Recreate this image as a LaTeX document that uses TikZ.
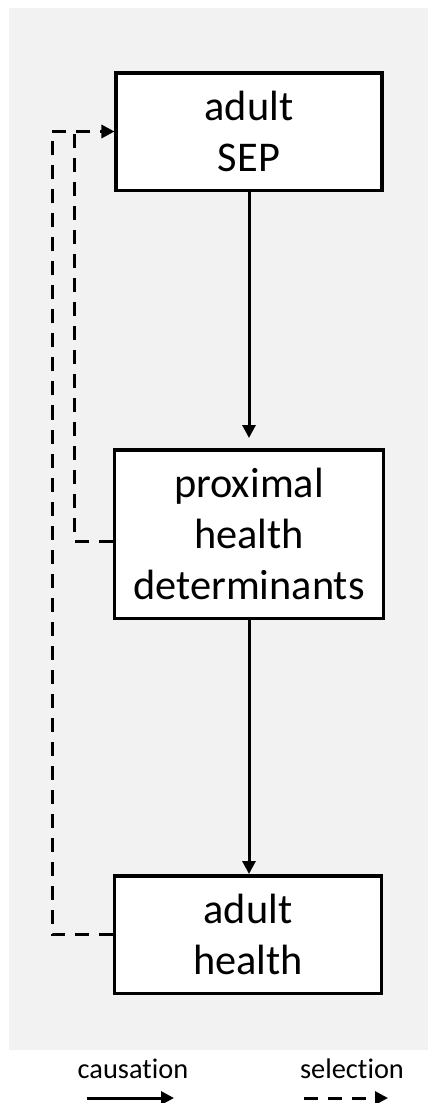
\documentclass[tikz,border=0pt]{standalone}
\usepackage{fontspec}
\setmainfont[Ligatures={NoCommon}]{Carlito}
\usetikzlibrary{arrows.meta}
\definecolor{bg}{HTML}{F2F2F2}
\begin{document}
\begin{tikzpicture}[x=1bp,y=-1bp,
  box/.style={draw,line width=3.5bp,fill=white,align=center,
    font=\fontsize{42.5}{51.5}\selectfont,inner sep=0pt},
  causal/.style={line width=3bp,-{Triangle[length=13bp,width=13bp]}},
  sel/.style={line width=3bp,dash pattern=on 14bp off 10bp},
  selarrow/.style={sel,-{Triangle[length=13bp,width=13bp]}},
  legend/.style={font=\fontsize{28.5}{34}\selectfont,inner sep=0pt}]
\useasboundingbox (0,0) rectangle (428,1103);
\fill[bg] (9,8) rectangle (428,1050);

\node[box,minimum width=265.5bp,minimum height=117.5bp] (sep) at (249,131.5) {adult\\SEP};
\node[box,minimum width=268.5bp,minimum height=168.5bp] (prox) at (249,534) {proximal\\health\\determinants};
\node[box,minimum width=266.5bp,minimum height=117.5bp] (health) at (248,934.5) {adult\\health};

\draw[causal,shorten >=10bp] (sep.south) -- (sep.south |- prox.north);
\draw[causal] (prox.south) -- (prox.south |- health.north);

\coordinate (pj) at (prox.west |- 0,541);
\coordinate (inner) at (74,131.5);
\coordinate (outer) at (52,131.5);
\draw[sel] (pj) -| (inner);
\draw[selarrow] (health.west) -| (outer) -- (sep.west);

\node[legend] (lc) at (133,1069) {causation};
\node[legend] (ls) at (352,1069) {selection};
\coordinate (c1) at (87,1098);
\coordinate (c2) at (174,1098);
\coordinate (s1) at (304,1098);
\coordinate (s2) at (388,1098);
\draw[causal] (c1) -- (c2);
\draw[selarrow] (s1) -- (s2);
\end{tikzpicture}
\end{document}
